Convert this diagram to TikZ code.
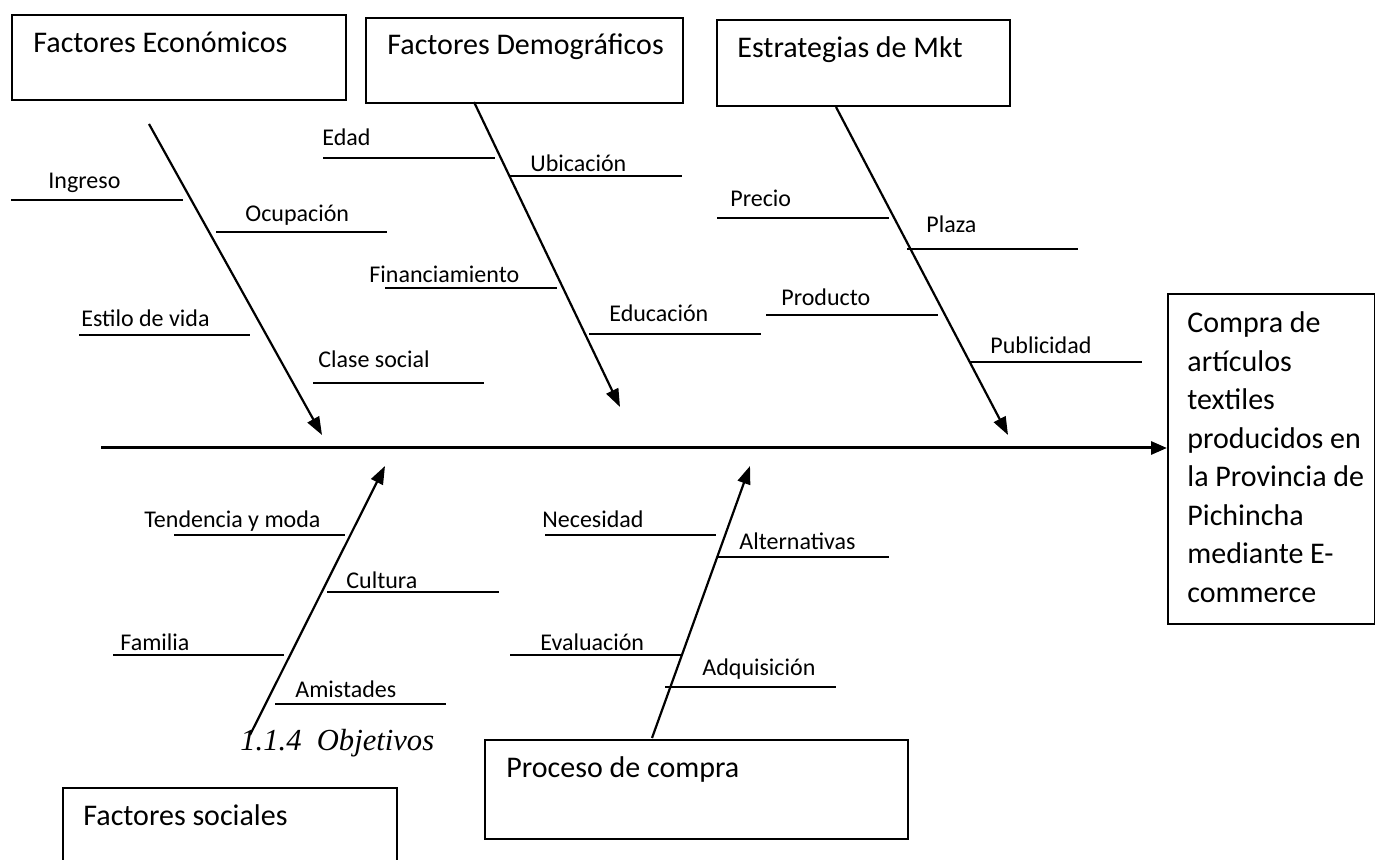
\documentclass[tikz,border=0pt]{standalone}
\usepackage{fontspec}
\setmainfont{Carlito}
\newfontfamily\timesfont{Liberation Serif}
\usetikzlibrary{arrows.meta,calc}

\tikzset{
  cause/.style={draw,line width=0.9pt,inner sep=0pt,anchor=north west},
  head/.style={font=\fontsize{15}{18}\selectfont,anchor=base west,inner sep=0pt},
  sub/.style={font=\fontsize{12}{14}\selectfont,anchor=base west,inner sep=0pt},
  rib/.style={line width=0.95pt},
  bone/.style={line width=1.1pt,-{Triangle[length=9pt,width=6.5pt]}},
}

\begin{document}
\begin{tikzpicture}[x=0.5pt,y=-0.5pt]
\useasboundingbox (0,0) rectangle (1375,860);
\clip (0,0) rectangle (1375,860);

% cajas de causas
\node[cause,minimum width=167pt,minimum height=42.5pt] (econ) at (11,14) {};
\node[head] (econtxt) at ($(econ.north west)+(22,39)$) {Factores Económicos};
\node[cause,minimum width=158.5pt,minimum height=42.5pt] (demog) at (365,17) {};
\node[head] (demogtxt) at ($(demog.north west)+(22,38)$) {Factores Demográficos};
\node[cause,minimum width=146.5pt,minimum height=43pt] (mkt) at (716,19) {};
\node[head] (mkttxt) at ($(mkt.north west)+(21,39)$) {Estrategias de Mkt};
\node[cause,minimum width=167pt,minimum height=50pt] (social) at (62,787) {};
\node[head] (socialtxt) at ($(social.north west)+(21,38)$) {Factores sociales};
\node[cause,minimum width=211.5pt,minimum height=49.5pt] (proceso) at (484,739) {};
\node[head] (procesotxt) at ($(proceso.north west)+(22,38)$) {Proceso de compra};

% efecto
\node[cause,minimum width=103.5pt,minimum height=165pt] (compra) at (1167,293) {};
\node[head,font=\fontsize{15}{19.25}\selectfont] (compratxt) at ($(compra.north west)+(20,40)$)
  {\parbox[t]{100pt}{Compra de\\artículos\\textiles\\producidos en\\la Provincia de\\Pichincha\\mediante E-\\commerce}};

% espina central
\coordinate (spine) at (101,448);
\draw[line width=1.5pt,-{Triangle[length=8pt,width=6.5pt]}] (spine) -- (spine -| compra.west);

% espinas
\coordinate (econtail) at (149,124);
\coordinate (econtip) at (322,435);
\draw[bone] (econtail) -- (econtip);
\coordinate (demogtail) at (474,102);
\coordinate (demogtip) at (620,407);
\draw[bone] (demogtail) -- (demogtip);
\coordinate (mkttail) at (836,107);
\coordinate (mkttip) at (1008,435);
\draw[bone] (mkttail) -- (mkttip);
\coordinate (socialtail) at (250,735);
\coordinate (socialtip) at (385,466);
\draw[bone] (socialtail) -- (socialtip);
\coordinate (procesotail) at (652,738);
\coordinate (procesotip) at (750,466);
\draw[bone] (procesotail) -- (procesotip);

% factores economicos
\draw[rib] (11,200) -- (183,200);
\node[sub] (ingreso) at (48,189) {Ingreso};
\draw[rib] (216,232) -- (387,232);
\node[sub] (ocupacion) at (245,222) {Ocupación};
\draw[rib] (79,335) -- (250,335);
\node[sub] (estilo) at (81,327) {Estilo de vida};
\draw[rib] (313,383) -- (484,383);
\node[sub] (clase) at (318,368) {Clase social};

% factores demograficos
\draw[rib] (323,158) -- (495,158);
\node[sub] (edad) at (322,146) {Edad};
\draw[rib] (510,176) -- (682,176);
\node[sub] (ubicacion) at (530,172) {Ubicación};
\draw[rib] (385,288) -- (557,288);
\node[sub] (financ) at (369,283) {Financiamiento};
\draw[rib] (589,334) -- (761,334);
\node[sub] (educacion) at (609,322) {Educación};

% estrategias de mkt
\draw[rib] (717,218) -- (889,218);
\node[sub] (precio) at (730,207) {Precio};
\draw[rib] (907,249) -- (1078,249);
\node[sub] (plaza) at (926,233) {Plaza};
\draw[rib] (766,315) -- (938,315);
\node[sub] (producto) at (781,306) {Producto};
\draw[rib] (970,362) -- (1142,362);
\node[sub] (publicidad) at (990,354) {Publicidad};

% factores sociales
\draw[rib] (174,535) -- (345,535);
\node[sub] (tendencia) at (144,528) {Tendencia y moda};
\draw[rib] (327,592) -- (499,592);
\node[sub] (cultura) at (346,588) {Cultura};
\draw[rib] (113,655) -- (284,655);
\node[sub] (familia) at (120,650) {Familia};
\draw[rib] (275,704) -- (446,704);
\node[sub] (amistades) at (295,697) {Amistades};

% proceso de compra
\draw[rib] (545,535) -- (716,535);
\node[sub] (necesidad) at (542,528) {Necesidad};
\draw[rib] (718,557) -- (889,557);
\node[sub] (alternativas) at (739,549) {Alternativas};
\draw[rib] (510,655) -- (681,655);
\node[sub] (evaluacion) at (540,650) {Evaluación};
\draw[rib] (665,687) -- (836,687);
\node[sub] (adquisicion) at (702,675) {Adquisición};

\node[anchor=base west,inner sep=0pt,font=\timesfont\itshape\fontsize{15.3}{18}\selectfont] (objetivos) at (240,750) {1.1.4\ \ Objetivos};
\end{tikzpicture}
\end{document}
